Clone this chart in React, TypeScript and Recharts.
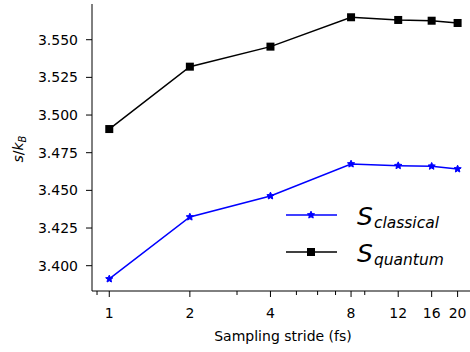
import React from 'react';
import { LineChart, Line, XAxis, YAxis } from 'recharts';

const strides = [1, 2, 4, 8, 12, 16, 20];
const sClassical = [3.3912, 3.4323, 3.4463, 3.4675, 3.4664, 3.466, 3.4642];
const sQuantum = [3.4907, 3.5321, 3.5454, 3.5649, 3.5631, 3.5626, 3.5611];
const xTicks = [1, 2, 4, 8, 12, 16, 20];
const xMinorTicks = [0.9, 3, 5, 6, 7, 9];
const yTicks = [3.4, 3.425, 3.45, 3.475, 3.5, 3.525, 3.55];

const data = strides.map((s, i) => ({ stride: s, classical: sClassical[i], quantum: sQuantum[i] }));
const allXTicks = [...xTicks, ...xMinorTicks].sort((a, b) => a - b);

const FONT = 'DejaVu Sans, sans-serif';
const BLUE = '#0000ff';

const starPath = (cx: number, cy: number, ro: number, ri: number) => {
  let d = '';
  for (let k = 0; k < 10; k++) {
    const r = k % 2 === 0 ? ro : ri;
    const a = -Math.PI / 2 + (k * Math.PI) / 5;
    d += (k === 0 ? 'M' : 'L') + (cx + r * Math.cos(a)).toFixed(2) + ',' + (cy + r * Math.sin(a)).toFixed(2);
  }
  return d + 'Z';
};

const StarDot = (props: any) => {
  const { cx, cy } = props;
  if (cx == null || cy == null) return null;
  return <path d={starPath(cx, cy, 3.8, 1.8)} fill={BLUE} stroke={BLUE} strokeWidth={1} />;
};

const SquareDot = (props: any) => {
  const { cx, cy } = props;
  if (cx == null || cy == null) return null;
  return <rect x={cx - 4} y={cy - 4} width={8} height={8} fill="#000" />;
};

// major ticks get a label and a long tick line, minor ones only a short line
const XTick = (props: any) => {
  const { x, y, payload } = props;
  const major = xTicks.includes(payload.value);
  return (
    <g>
      <line x1={x} x2={x} y1={y} y2={y + (major ? 6 : 4)} stroke="#000" strokeWidth={1} />
      {major && (
        <text x={x} y={y + 27} textAnchor="middle" fontFamily={FONT} fontSize={14} fill="#000">
          {payload.value}
        </text>
      )}
    </g>
  );
};

const tickStyle = { fontFamily: FONT, fontSize: 14, fill: '#000' };

export default function App() {
  return (
    <div style={{ position: 'fixed', left: 0, top: 0, width: 470, height: 352, background: '#fff', overflow: 'hidden' }}>
      <LineChart width={470} height={352} data={data} margin={{ top: 4, right: 0, bottom: 0, left: 0 }}>
        <XAxis
          dataKey="stride"
          type="number"
          scale="log"
          domain={[0.862, 22.25]}
          allowDataOverflow
          ticks={allXTicks}
          interval={0}
          tickSize={0}
          tickMargin={0}
          tick={<XTick />}
          tickLine={false}
          axisLine={{ stroke: '#000' }}
          height={61}
        />
        <XAxis
          xAxisId="top"
          orientation="top"
          dataKey="stride"
          type="number"
          scale="log"
          domain={[0.862, 22.25]}
          allowDataOverflow
          tick={false}
          tickLine={false}
          axisLine={{ stroke: '#000' }}
          height={0}
        />
        <YAxis
          type="number"
          domain={[3.3832, 3.5737]}
          allowDataOverflow
          ticks={yTicks}
          tickFormatter={(v: number) => v.toFixed(3)}
          tickSize={6}
          tickMargin={8}
          tick={tickStyle}
          tickLine={{ stroke: '#000' }}
          axisLine={{ stroke: '#000' }}
          width={92}
        />
        <Line
          dataKey="classical"
          stroke={BLUE}
          strokeWidth={1.5}
          dot={<StarDot />}
          activeDot={false}
          isAnimationActive={false}
        />
        <Line
          dataKey="quantum"
          stroke="#000"
          strokeWidth={1.5}
          dot={<SquareDot />}
          activeDot={false}
          isAnimationActive={false}
        />
      </LineChart>
      <svg width={470} height={352} style={{ position: 'absolute', left: 0, top: 0, pointerEvents: 'none' }}>
        <text x={283} y={341} textAnchor="middle" fontFamily={FONT} fontSize={14} fill="#000">
          Sampling stride (fs)
        </text>
        <text transform="translate(23,149) rotate(-90)" textAnchor="middle" fontFamily={FONT} fontSize={14} fill="#000">
          <tspan fontStyle="italic">s</tspan>
          <tspan>/</tspan>
          <tspan fontStyle="italic">k</tspan>
          <tspan fontStyle="italic" fontSize={10} dy={3}>B</tspan>
        </text>
        <line x1={286} x2={337} y1={215} y2={215} stroke={BLUE} strokeWidth={1.5} />
        <path d={starPath(311, 215, 3.8, 1.8)} fill={BLUE} stroke={BLUE} strokeWidth={1} />
        <text x={357} y={225} fontFamily={FONT} fill="#000">
          <tspan fontStyle="italic" fontSize={25}>S</tspan>
          <tspan fontStyle="italic" fontSize={15.5} dy={3} dx={1}>classical</tspan>
        </text>
        <line x1={286} x2={337} y1={252} y2={252} stroke="#000" strokeWidth={1.5} />
        <rect x={307} y={248} width={8} height={8} fill="#000" />
        <text x={357} y={262} fontFamily={FONT} fill="#000">
          <tspan fontStyle="italic" fontSize={25}>S</tspan>
          <tspan fontStyle="italic" fontSize={15.5} dy={3} dx={1}>quantum</tspan>
        </text>
      </svg>
    </div>
  );
}
